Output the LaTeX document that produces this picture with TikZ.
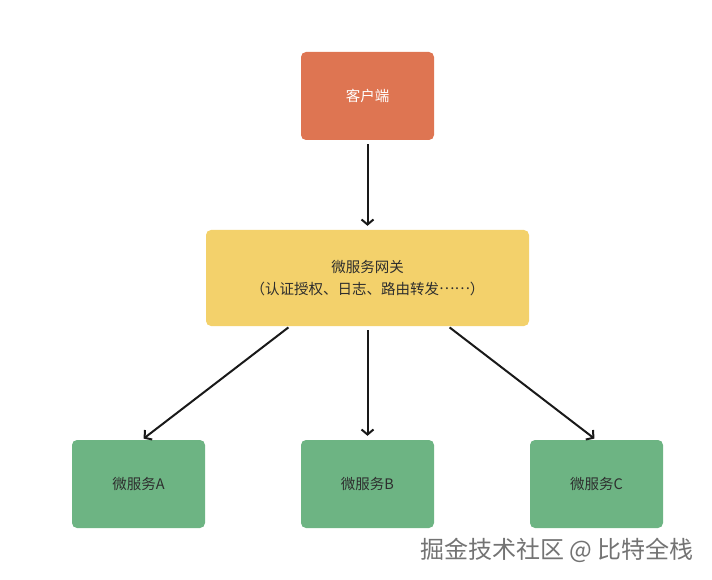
\documentclass[tikz,border=0pt]{standalone}
\usepackage{fontspec}
\setmainfont{Noto Sans CJK SC}
\usetikzlibrary{arrows.meta}
\definecolor{clientred}{HTML}{DE7552}
\definecolor{gateyellow}{HTML}{F3D16B}
\definecolor{svcgreen}{HTML}{6DB483}
\definecolor{txtdark}{HTML}{2E2E2E}
\newcommand{\middots}{\raisebox{0.32em}{……}}
\tikzset{
  box/.style={rounded corners=5pt, inner sep=0pt, align=center,
    font=\fontsize{14.5}{22}\selectfont, text=txtdark},
  link/.style={-{Straight Barb[length=5pt,width=12pt,line width=2pt]}, line width=2pt, black!90}
}
\begin{document}
\begin{tikzpicture}[x=1pt,y=-1pt]
      \useasboundingbox (0,0) rectangle (712,580);
      \draw[draw=none]
        (367.5,96) node[box, fill=clientred, text=white, minimum width=133pt, minimum height=88pt] (client){客户端}
        (367.5,278) node[box, fill=gateyellow, minimum width=323pt, minimum height=96pt] (gateway){微服务网关\\（认证授权、日志、路由转发\middots）}
        (138.5,484) node[box, fill=svcgreen, minimum width=133pt, minimum height=88pt] (a){微服务A}
        (367.5,484) node[box, fill=svcgreen, minimum width=133pt, minimum height=88pt] (b){微服务B}
        (596.5,484) node[box, fill=svcgreen, minimum width=133pt, minimum height=88pt] (c){微服务C};
      \begin{scope}[link]
        \draw[shorten <=4pt, shorten >=4pt] (client) to (gateway);
        \draw[shorten <=2pt, shorten >=2pt] ([xshift=-77.5pt]gateway.south) to ([xshift=3.5pt]a.north);
        \draw[shorten <=4pt, shorten >=4pt] (gateway) to (b);
        \draw[shorten <=2pt, shorten >=2pt] ([xshift=80.5pt]gateway.south) to ([xshift=-0.5pt]c.north);
      \end{scope}
      \node[anchor=east, font=\fontsize{24}{26}\selectfont, text=black!55] (mark) at (697,550) {掘金技术社区 @ 比特全栈};
    \end{tikzpicture}
\end{document}
